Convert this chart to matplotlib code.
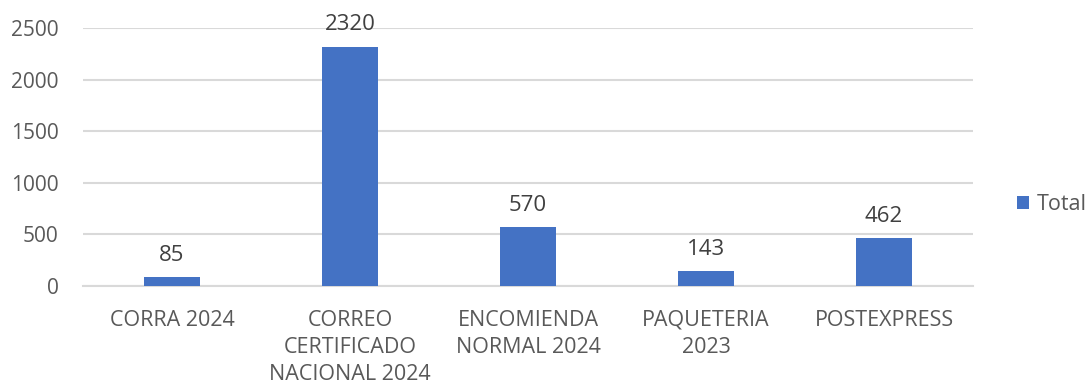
import matplotlib
matplotlib.use("Agg")
import matplotlib.pyplot as plt
from matplotlib.patches import Patch

categories = ["CORRA 2024", "CORREO\nCERTIFICADO\nNACIONAL 2024", "ENCOMIENDA\nNORMAL 2024",
              "PAQUETERIA\n2023", "POSTEXPRESS"]
totals = [85, 2320, 570, 143, 462]
y_ticks = [0, 500, 1000, 1500, 2000, 2500]

bar_color = "#4472C4"
text_color = "#595959"
grid_color = "#D9D9D9"

plt.rcParams["font.family"] = ["Open Sans", "DejaVu Sans"]

fig = plt.figure(figsize=(10.91, 3.90), dpi=100)
ax = fig.add_axes([83 / 1091, 104 / 390, 890 / 1091, 258 / 390])

x = list(range(len(categories)))
bars = ax.bar(x, totals, width=0.31, color=bar_color, zorder=3)

for rect, v in zip(bars, totals):
    ax.annotate(f"{v}", (rect.get_x() + rect.get_width() / 2, v),
                xytext=(0, 8), textcoords="offset points",
                ha="center", va="bottom", fontsize=16, color="#404040")

ax.set_xlim(-0.5, len(categories) - 0.5)
ax.set_ylim(0, 2500)
ax.set_yticks(y_ticks)
ax.set_yticklabels([str(t) for t in y_ticks], fontsize=15, color=text_color)
ax.set_xticks(x)
ax.set_xticklabels(categories, fontsize=15.5, color=text_color, linespacing=1.4)
ax.tick_params(axis="both", length=0)
ax.tick_params(axis="y", pad=17.5)
ax.tick_params(axis="x", pad=17)

ax.grid(axis="y", color=grid_color, linewidth=1.5, zorder=0)
for side in ["top", "right", "left"]:
    ax.spines[side].set_visible(False)
ax.spines["bottom"].set_color(grid_color)
ax.spines["bottom"].set_linewidth(1.5)

handle = Patch(facecolor=bar_color, edgecolor="none")
fig.legend([handle], ["Total"], loc="center left", bbox_to_anchor=(1017 / 1091, 1 - 205 / 390),
           frameon=False, fontsize=15.5, handlelength=0.55, handleheight=0.55,
           handletextpad=0.35, labelcolor=text_color, borderaxespad=0, borderpad=0)

fig.savefig("out.png", dpi=100)
